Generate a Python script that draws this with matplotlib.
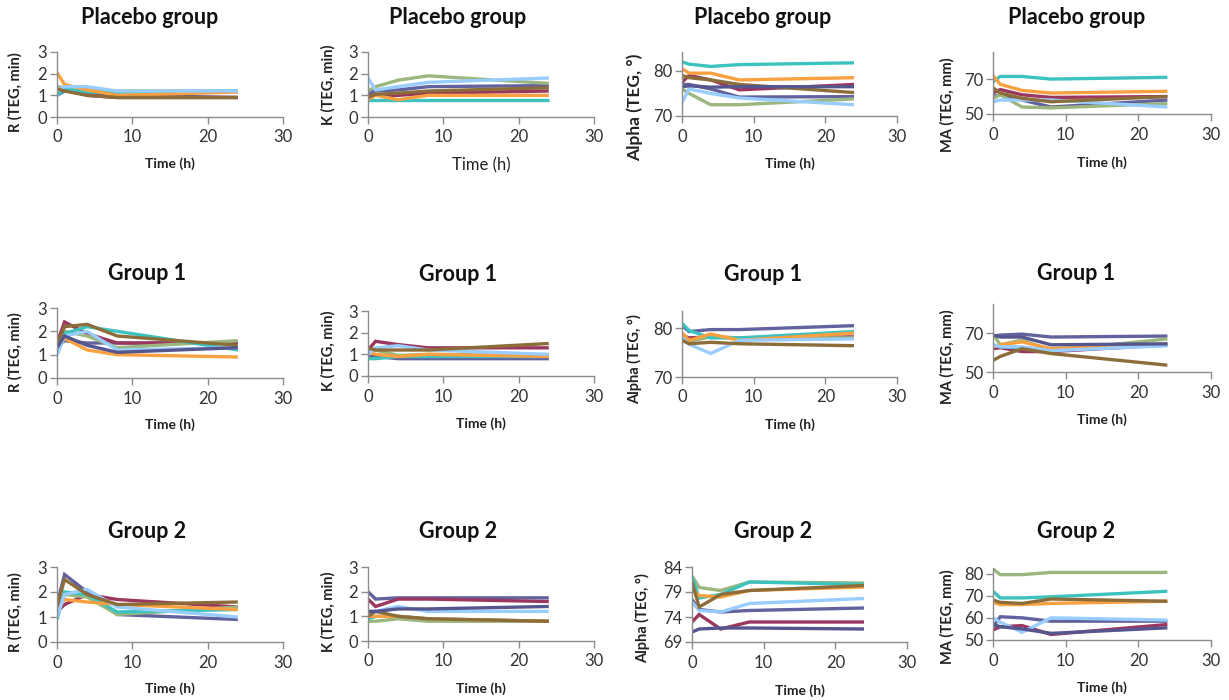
import matplotlib
matplotlib.use("Agg")
import matplotlib.pyplot as plt

plt.rcParams['font.family'] = ['Lato', 'DejaVu Sans']

# Sampling times (h)
time_h = [0, 1, 4, 8, 24]

# Line colours, same order as the series lists below
series_colors = ['#62629E', '#9B365F', '#9BB77F', '#3CC3C0',
                 '#F9A040', '#99CCFF', '#8C6D3A', '#56568F']

# Placebo group: one list per patient, colour order above
r_placebo = [[1.0, 1.2, 1.1, 1.0, 0.9],
             [1.2, 1.25, 1.0, 0.9, 0.9],
             [1.4, 1.35, 1.25, 1.2, 1.2],
             [1.0, 1.3, 1.15, 1.15, 1.2],
             [2.05, 1.5, 1.25, 1.0, 1.15],
             [1.2, 1.4, 1.4, 1.2, 1.2],
             [1.3, 1.2, 1.0, 0.9, 0.9]]
k_placebo = [[1.1, 1.2, 1.25, 1.4, 1.45],
             [1.0, 1.0, 1.0, 1.1, 1.2],
             [1.2, 1.4, 1.7, 1.9, 1.55],
             [0.8, 0.8, 0.8, 0.8, 0.8],
             [0.8, 1.0, 0.8, 1.0, 1.0],
             [1.8, 1.25, 1.4, 1.6, 1.8],
             [0.9, 1.05, 1.1, 1.2, 1.35]]
alpha_placebo = [[77, 77, 76, 74.2, 74.3],
                 [77.5, 79, 78, 75.8, 77],
                 [76, 75, 72.5, 72.5, 73.8],
                 [82, 81.5, 81, 81.4, 81.8],
                 [80.5, 79.5, 79.5, 78, 78.5],
                 [73, 76, 75, 74, 72.5],
                 [79, 78.5, 78, 77, 75.2],
                 [76.5, 76.7, 76.4, 76.5, 76.5]]
ma_placebo = [[60, 61, 58, 54, 58],
              [62, 64, 61, 59.5, 60],
              [59, 61, 54, 53.5, 56],
              [68.5, 71.5, 71.5, 70, 71],
              [72, 67, 63.5, 62, 63],
              [57, 58, 58, 58, 54],
              [65, 62, 59, 57, 60]]

# Group 1
r_group1 = [[1.3, 1.6, 1.5, 1.5, 1.5],
            [1.5, 2.4, 1.9, 1.5, 1.5],
            [1.3, 2.0, 1.8, 1.3, 1.6],
            [1.0, 1.9, 2.2, 2.0, 1.2],
            [1.2, 1.7, 1.2, 1.0, 0.9],
            [1.0, 1.8, 2.0, 1.2, 1.3],
            [1.4, 2.2, 2.3, 1.8, 1.4],
            [1.3, 1.8, 1.4, 1.1, 1.3]]
k_group1 = [[0.9, 0.9, 0.8, 0.8, 0.8],
            [1.2, 1.6, 1.45, 1.3, 1.3],
            [1.0, 1.2, 0.95, 1.0, 0.95],
            [0.8, 0.8, 0.9, 0.9, 0.9],
            [1.1, 1.0, 0.9, 1.0, 0.9],
            [1.0, 1.3, 1.4, 1.2, 1.0],
            [1.3, 1.2, 1.2, 1.2, 1.5]]
alpha_group1 = [[80.5, 79.3, 79.7, 79.7, 80.5],
                [78.5, 78, 78.2, 78, 78.2],
                [79, 77.3, 78.2, 78, 78],
                [81, 79.5, 78, 78, 79.3],
                [79, 77.5, 78.8, 77.5, 79],
                [78, 76.7, 74.8, 77.5, 77.8],
                [77.5, 76.8, 77.1, 76.8, 76.4]]
ma_group1 = [[68.5, 69, 69.5, 68, 68.5],
             [62, 62.5, 60.5, 60.5, 64],
             [69.5, 64, 66.5, 61, 67],
             [64, 63, 62.5, 61, 64],
             [63, 64, 65.5, 62, 64.5],
             [64, 63, 63, 61, 63.5],
             [56, 58, 62, 59.5, 53.5],
             [69, 68, 68, 64, 64.5]]

# Group 2
r_group2 = [[1.5, 2.7, 2.0, 1.1, 0.9],
            [1.2, 1.5, 1.9, 1.7, 1.4],
            [1.1, 1.9, 1.8, 1.1, 1.4],
            [0.9, 2.0, 1.9, 1.2, 1.3],
            [1.3, 1.7, 1.6, 1.5, 1.3],
            [1.0, 1.9, 2.1, 1.4, 1.0],
            [1.4, 2.5, 1.9, 1.5, 1.6]]
k_group2 = [[2.0, 1.7, 1.75, 1.75, 1.75],
            [1.7, 1.4, 1.7, 1.7, 1.6],
            [0.8, 0.8, 0.9, 0.8, 0.8],
            [0.9, 1.0, 1.0, 0.9, 0.8],
            [1.0, 1.0, 1.0, 0.9, 0.8],
            [1.2, 1.2, 1.4, 1.2, 1.2],
            [1.0, 1.2, 1.0, 0.9, 0.8],
            [1.2, 1.2, 1.3, 1.3, 1.4]]
alpha_group2 = [[77.5, 75.5, 75, 75.3, 75.8],
                [73, 74.5, 71.6, 73, 73],
                [82.2, 79.9, 79.3, 81, 80.8],
                [82, 77.8, 78.5, 81, 80.5],
                [79.5, 78.3, 78, 79.3, 80],
                [77, 75.3, 75, 76.7, 77.7],
                [81, 76, 78.5, 79.3, 80.3],
                [71, 71.6, 71.8, 71.8, 71.6]]
ma_group2 = [[56, 60.5, 60, 58.5, 58.5],
             [54.5, 56, 56.5, 52.5, 57],
             [82, 79.5, 79.5, 80.5, 80.5],
             [72, 69, 69, 69.5, 72],
             [67, 66, 66, 66.5, 67.5],
             [60, 58, 53.5, 60, 59],
             [68, 67, 66.5, 68.5, 67.5],
             [57, 56, 55, 53, 55.5]]

group_titles = ['Placebo group', 'Group 1', 'Group 2']
y_labels = ['R (TEG, min)', 'K (TEG, min)', 'Alpha (TEG, \u00b0)', 'MA (TEG, mm)']
x_label = 'Time (h)'
x_ticks = [0, 10, 20, 30]

W, H = 1229, 700

# panel layout in pixels: axes box (left, top, right, bottom), title (x, y),
# xlabel y, ylabel (x, y), y limits, y ticks
panels = [
    (r_placebo, (57, 52, 283, 117), (150, 18), 164, (15, 92), (0, 3), [0, 1, 2, 3]),
    (k_placebo, (368, 52, 594, 117), (458, 18), 165, (328, 85), (0, 3), [0, 1, 2, 3]),
    (alpha_placebo, (682, 52, 897, 116), (763, 18), 164, (635, 107), (70, 84.2), [70, 80]),
    (ma_placebo, (993, 52, 1211, 114), (1077, 18), 163, (947, 105), (50, 85.5), [50, 70]),
    (r_group1, (57, 308, 283, 378), (147, 273), 425, (15, 352), (0, 3), [0, 1, 2, 3]),
    (k_group1, (368, 311, 594, 376), (458, 275), 424, (328, 351), (0, 3), [0, 1, 2, 3]),
    (alpha_group1, (682, 311, 897, 377), (763, 275), 425, (635, 359), (70, 83.5), [70, 80]),
    (ma_group1, (993, 304, 1211, 372), (1076, 273), 420, (947, 357), (50, 85), [50, 70]),
    (r_group2, (57, 567, 283, 642), (147, 532), 689, (15, 612), (0, 3), [0, 1, 2, 3]),
    (k_group2, (368, 567, 594, 641), (458, 532), 689, (328, 612), (0, 3), [0, 1, 2, 3]),
    (alpha_group2, (692, 567, 907, 642), (773, 532), 691, (643, 618), (69, 84), [69, 74, 79, 84]),
    (ma_group2, (993, 568, 1211, 640), (1076, 532), 688, (947, 617), (50, 82.5), [50, 60, 70, 80]),
]

fig = plt.figure(figsize=(W / 100, H / 100), dpi=100)
fig.patch.set_facecolor('white')

for i, (data, box, tpos, xl_y, yl_pos, ylim, yticks) in enumerate(panels):
    row, col = divmod(i, 4)
    left, top, right, bottom = box
    ax = fig.add_axes([left / W, 1 - bottom / H, (right - left) / W, (bottom - top) / H])

    for j, series in enumerate(data):
        ax.plot(time_h, series, color=series_colors[j], lw=2.4,
                solid_joinstyle='miter', solid_capstyle='butt')

    ax.set_xlim(0, 30)
    ax.set_ylim(*ylim)
    ax.set_xticks(x_ticks)
    ax.set_yticks(yticks)
    for side in ['top', 'right']:
        ax.spines[side].set_visible(False)
    for side in ['left', 'bottom']:
        ax.spines[side].set_color('#8C8C8C')
        ax.spines[side].set_linewidth(1)
    ax.tick_params(axis='both', direction='out', length=5, width=1,
                   color='#8C8C8C', labelsize=12, labelcolor='#333333')
    ax.tick_params(axis='x', pad=4)
    ax.tick_params(axis='y', pad=2)

    fig.text(tpos[0] / W, 1 - tpos[1] / H, group_titles[row], ha='center',
             va='center', fontsize=15.5, fontweight='bold', color='#111111')

    # x axis title
    h_px = bottom - top
    xl_weight, xl_size = 'bold', 10
    if i == 1:
        xl_weight, xl_size = 'normal', 12
    ax.set_xlabel(x_label, fontsize=xl_size, fontweight=xl_weight, color='#222222')
    ax.xaxis.set_label_coords(0.5, (bottom - xl_y) / h_px)
    ax.xaxis.label.set_va('center')

    # y axis title
    yl_weight, yl_size = 'bold', 10.5
    if i == 2:
        yl_size = 12.5
    ax.set_ylabel(y_labels[col], fontsize=yl_size, fontweight=yl_weight, color='#222222')
    ax.yaxis.set_label_coords((yl_pos[0] - left) / (right - left), (bottom - yl_pos[1]) / h_px)
    ax.yaxis.label.set_va('center')

fig.savefig('out.png', dpi=100, facecolor='white')
